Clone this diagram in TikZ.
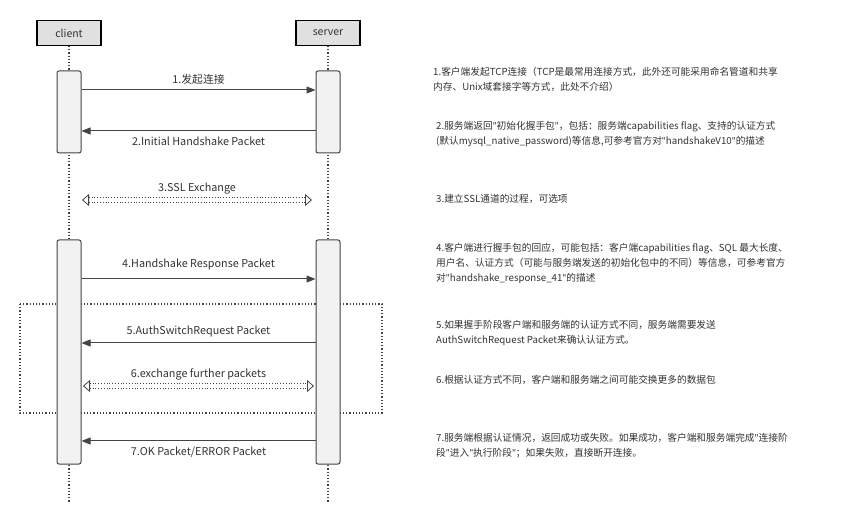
\documentclass[tikz,border=0pt]{standalone}
\usepackage{fontspec}
\setmainfont{Noto Sans CJK SC}
\newfontfamily\latf{Noto Sans}
\usetikzlibrary{arrows.meta}
\definecolor{ln}{HTML}{444444}
\definecolor{tx}{HTML}{333333}
\newcommand{\qq}{{\latf\symbol{34}}}
\begin{document}
\begin{tikzpicture}[x=1pt,y=-1pt,
  head/.style={draw=black,line width=1.2pt,fill=black!12,minimum width=64pt,minimum height=25pt,inner sep=0pt,font=\fontsize{10.5}{12}\selectfont,text=tx},
  act/.style={draw=ln,line width=1pt,fill=black!5,rounded corners=2pt,minimum width=24pt,inner sep=0pt},
  life/.style={draw=ln,line width=1.2pt,dotted},
  msg/.style={draw=ln,line width=1pt,-{Triangle[length=9pt,width=7pt]}},
  dbl/.style={draw=ln,line width=0.8pt,dotted,double,double distance=4pt,{Triangle[open,length=7pt,width=12pt]}-{Triangle[open,length=7pt,width=12pt]}},
  lab/.style={font=\fontsize{10.8}{12}\selectfont,text=tx,inner sep=0pt},
  note/.style={font=\fontsize{9.7}{15}\selectfont,text=tx,align=left,anchor=north west,inner sep=0pt}]
\useasboundingbox (0,0) rectangle (865,526);
\fill[white] (0,0) rectangle (865,526);
\node[head] (c) at (69,33) {client};
\node[head] (s) at (328,33) {server};
\coordinate (cend) at (69,503);
\coordinate (send) at (328,503);
\draw[life] (c.south) -- (cend);
\draw[life] (s.south) -- (send);
\draw[ln,line width=1.2pt,dotted] (20,304) rectangle (382,413);
\node[act,minimum height=82pt] (ca1) at (69,112) {};
\node[act,minimum height=82pt] (sa1) at (328,112) {};
\node[act,minimum height=224pt] (ca2) at (69,352) {};
\node[act,minimum height=224pt] (sa2) at (328,352) {};
\draw[msg] (ca1.east |- 0,90) -- (sa1.west |- 0,90) node[lab,midway,above=5pt] (l1) {1.发起连接};
\draw[msg] (sa1.west |- 0,131) -- (ca1.east |- 0,131) node[lab,midway,below=5pt] (l2) {2.Initial Handshake Packet};
\coordinate (d3a) at (82,200); \coordinate (d3b) at (312,200);
\draw[dbl] (d3a) -- (d3b) node[lab,midway,above=5pt] (l3) {3.SSL Exchange};
\draw[msg] (ca2.east |- 0,279) -- (sa2.west |- 0,279) node[lab,midway,above=9pt] (l4) {4.Handshake Response Packet};
\draw[msg] (sa2.west |- 0,343) -- (ca2.east |- 0,343) node[lab,midway,above=6pt] (l5) {5.AuthSwitchRequest Packet};
\coordinate (d6a) at (83,386); \coordinate (d6b) at (314,386);
\draw[dbl] (d6a) -- (d6b) node[lab,midway,above=5pt] (l6) {6.exchange further packets};
\draw[msg] (sa2.west |- 0,441) -- (ca2.east |- 0,441) node[lab,midway,below=5pt] (l7) {7.OK Packet/ERROR Packet};
\node[note] (n1) at (433,67) {1.客户端发起TCP连接（TCP是最常用连接方式，此外还可能采用命名管道和共享\\内存、Unix域套接字等方式，此处不介绍）};
\node[note] (n2) at (436,121) {2.服务端返回\qq 初始化握手包\qq ，包括：服务端capabilities flag、支持的认证方式\\(默认mysql\_native\_password)等信息,可参考官方对\qq handshakeV10\qq 的描述};
\node[note] (n3) at (436,194) {3.建立SSL通道的过程，可选项};
\node[note] (n4) at (436,243) {4.客户端进行握手包的回应，可能包括：客户端capabilities flag、SQL 最大长度、\\用户名、认证方式（可能与服务端发送的初始化包中的不同）等信息，可参考官方\\对\qq handshake\_response\_41\qq 的描述};
\node[note] (n5) at (436,320) {5.如果握手阶段客户端和服务端的认证方式不同，服务端需要发送\\AuthSwitchRequest Packet来确认认证方式。};
\node[note] (n6) at (436,375) {6.根据认证方式不同，客户端和服务端之间可能交换更多的数据包};
\node[note] (n7) at (436,433) {7.服务端根据认证情况，返回成功或失败。如果成功，客户端和服务端完成\qq 连接阶\\段\qq 进入\qq 执行阶段\qq ；如果失败，直接断开连接。};
\end{tikzpicture}
\end{document}
